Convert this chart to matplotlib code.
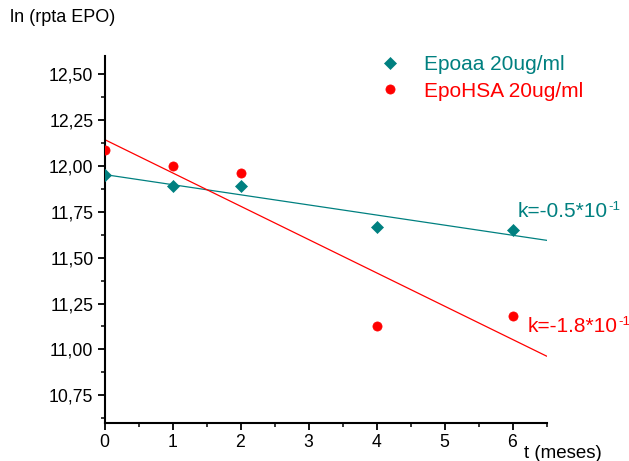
import numpy as np
import matplotlib
matplotlib.use("Agg")
import matplotlib.pyplot as plt
from matplotlib.ticker import MultipleLocator, FuncFormatter

plt.rcParams['font.family'] = ['Liberation Sans', 'DejaVu Sans']

# data
t_months = [0, 1, 2, 4, 6]
epoaa = [11.95, 11.89, 11.89, 11.67, 11.65]
epohsa = [12.09, 12.00, 11.96, 11.13, 11.18]
label_epoaa = "Epoaa 20ug/ml"
label_epohsa = "EpoHSA 20ug/ml"
k_epoaa = "k=-0.5*10"
k_epohsa = "k=-1.8*10"
k_exp = "-1"

TEAL = "#008080"
RED = "#FF0000"

fig = plt.figure(figsize=(6.29, 4.61), dpi=100)
ax = fig.add_axes([104.5/629, 1-422.7/461, (546.5-104.5)/629, (422.7-56)/461])

x = np.array(t_months, dtype=float)
xfit = np.array([0, 6.5])
for y, c, m, ms, lab in [(epoaa, TEAL, 'D', 6.0, label_epoaa), (epohsa, RED, 'o', 6.6, label_epohsa)]:
    p = np.polyfit(x, np.array(y), 1)
    ax.plot(xfit, np.polyval(p, xfit), color=c, lw=0.9, zorder=2)
    ax.plot(x, y, linestyle='none', marker=m, ms=ms, color=c, mec=c, mew=0.5, label=lab, zorder=3)

ax.set_xlim(0, 6.5)
ax.set_ylim(10.6, 12.6)
ax.xaxis.set_major_locator(MultipleLocator(1))
ax.xaxis.set_minor_locator(MultipleLocator(0.5))
ax.yaxis.set_major_locator(MultipleLocator(0.25))
ax.yaxis.set_minor_locator(MultipleLocator(0.125))
ax.yaxis.set_major_formatter(FuncFormatter(lambda v, p: f"{v:.2f}".replace('.', ',')))
ax.spines['top'].set_visible(False)
ax.spines['right'].set_visible(False)
for s in ['left', 'bottom']:
    ax.spines[s].set_linewidth(1.5)
ax.tick_params(which='major', direction='out', length=5, width=1.3, labelsize=12.7, pad=3)
ax.tick_params(which='minor', direction='out', length=3, width=1.1)

fig.text(10/629, 1-18/461, "ln (rpta EPO)", fontsize=13, ha='left', va='center')
fig.text(524/629, 1-453/461, "t (meses)", fontsize=13.5, ha='left', va='center')

leg = ax.legend(loc='upper left', bbox_to_anchor=(369/629, 1-45/461), bbox_transform=fig.transFigure,
                frameon=False, fontsize=15, handletextpad=1.15, labelspacing=0.35,
                handlelength=1.0, labelcolor='linecolor', borderpad=0)

for txt, c, px, py in [(k_epoaa, TEAL, 518, 217), (k_epohsa, RED, 528, 332)]:
    t = fig.text(px/629, 1-py/461, txt, fontsize=15, color=c, ha='left', va='baseline')
    ax.annotate(k_exp, xy=(1, 1), xycoords=t, xytext=(0.3, 0.5), textcoords='offset points',
                fontsize=9.5, color=c, ha='left', va='top', annotation_clip=False)

fig.savefig("out.png", dpi=100)
